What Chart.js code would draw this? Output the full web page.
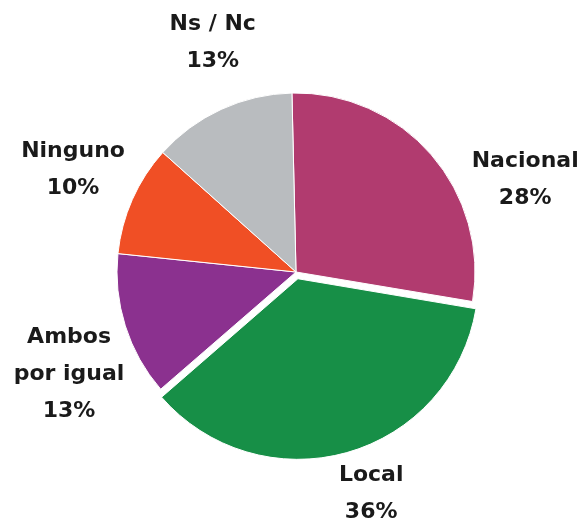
<!DOCTYPE html>
<html>
<head>
<meta charset="utf-8">
<script src="https://cdn.jsdelivr.net/npm/chart.js@4/dist/chart.umd.min.js"></script>
<style>
    html, body { margin: 0; padding: 0; background: #ffffff; }
    #box { width: 581px; height: 527px; position: relative; }
</style>
</head>
<body>
<div id="box"><canvas id="grafico"></canvas></div>
<script>
const categorias = ['Nacional', 'Local', 'Ambos\npor igual', 'Ninguno', 'Ns / Nc'];
const porcentajes = [28, 36, 13, 10, 13];
const colores = ['#b13b6f', '#178f47', '#8b318f', '#f04f25', '#b9bcbf'];

// ajuste de la posicion de cada etiqueta (grados sobre el angulo medio, y distancia / radio)
const giroEtiqueta = [19, -3, -6.7, 0.7, 4.7];
const distEtiqueta = [1.38, 1.31, 1.39, 1.37, 1.36];

const etiquetasPlugin = {
    id: 'etiquetas',
    afterDatasetsDraw(chart) {
        const ctx = chart.ctx;
        const meta = chart.getDatasetMeta(0);
        ctx.save();
        ctx.font = 'bold 22px "DejaVu Sans"';
        ctx.fillStyle = '#1a1a1a';
        ctx.textAlign = 'center';
        ctx.textBaseline = 'middle';
        meta.data.forEach((arco, i) => {
            const p = arco.getProps(['x', 'y', 'startAngle', 'endAngle', 'outerRadius'], true);
            const ang = (p.startAngle + p.endAngle) / 2 + giroEtiqueta[i] * Math.PI / 180;
            const r = p.outerRadius * distEtiqueta[i];
            const cx = p.x + Math.cos(ang) * r;
            const cy = p.y + Math.sin(ang) * r;
            const lineas = categorias[i].split('\n').concat([porcentajes[i] + '%']);
            const alto = 37;
            lineas.forEach((txt, j) => {
                ctx.fillText(txt, cx, cy + (j - (lineas.length - 1) / 2) * alto);
            });
        });
        ctx.restore();
    }
};

const ctx = document.getElementById('grafico').getContext('2d');
const graficoTorta = new Chart(ctx, {
    type: 'pie',
    data: {
        labels: categorias,
        datasets: [{
            data: porcentajes,
            backgroundColor: colores,
            borderColor: '#ffffff',
            borderWidth: 1,
            // chart.js divide el offset por 4 al dibujar
            offset: [0, 28, 0, 0, 0]
        }]
    },
    options: {
        responsive: true,
        maintainAspectRatio: false,
        animation: false,
        rotation: -1.3,
        radius: 179,
        layout: { padding: { left: 11, top: 17, right: 0, bottom: 0 } },
        plugins: {
            legend: { display: false },
            tooltip: { enabled: false }
        }
    },
    plugins: [etiquetasPlugin]
});
</script>
</body>
</html>
